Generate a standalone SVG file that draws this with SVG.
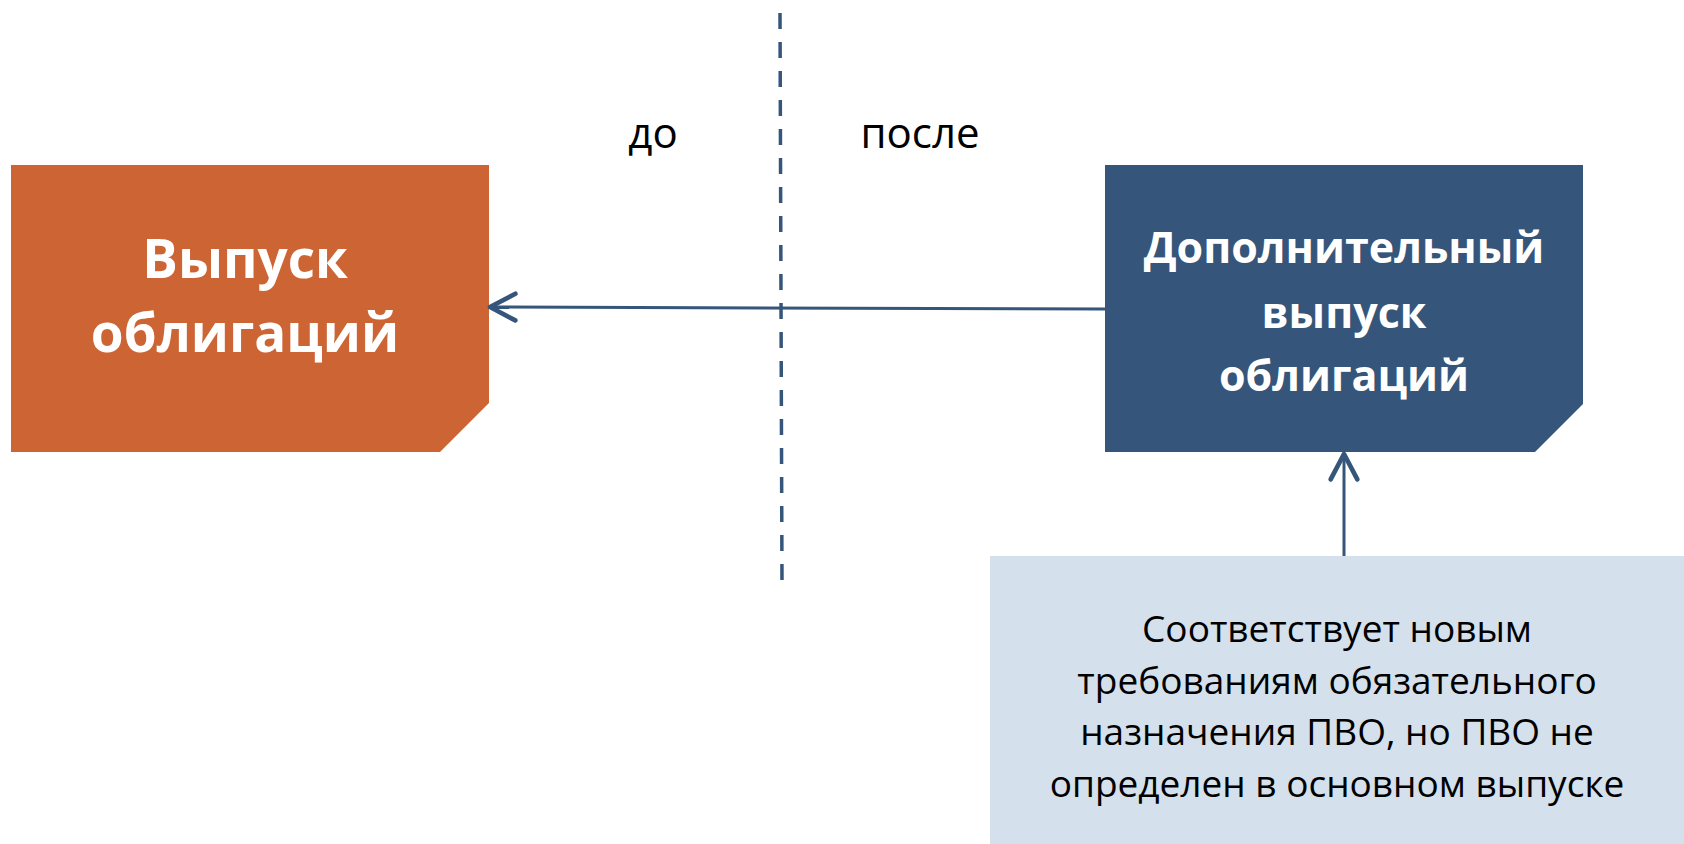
<svg xmlns="http://www.w3.org/2000/svg" width="1684" height="844" viewBox="0 0 1684 844">
<style>
  .lbl { font-family: "Open Sans", "Noto Sans", sans-serif; fill: #000; text-anchor: middle; }
  .bold { font-family: "Open Sans", "Noto Sans", sans-serif; font-weight: bold; fill: #fff; text-anchor: middle; }
  .conn { stroke: #35557A; stroke-width: 3; fill: none; }
</style>
<defs>
  <marker id="chev" markerUnits="userSpaceOnUse" markerWidth="40" markerHeight="40" viewBox="-25 -15 30 30" refX="0" refY="0" orient="auto">
    <path d="M -19 -10 L 0 0 L -19 10" fill="none" stroke="#35557A" stroke-width="3.5" stroke-linecap="round" stroke-linejoin="round"/>
  </marker>
</defs>
<rect width="1684" height="844" fill="#fff"/>

<g id="divider">
  <line x1="780" y1="13" x2="782" y2="583" stroke="#35557A" stroke-width="3.5" stroke-dasharray="16 13"/>
  <text class="lbl" x="653" y="148" font-size="42">до</text>
  <text class="lbl" x="920" y="148" font-size="42">после</text>
</g>

<g id="node-issue">
  <path d="M 11 165 L 489 165 L 489 403 L 440 452 L 11 452 Z" fill="#CD6434"/>
  <text class="bold" x="245" y="278" font-size="53">Выпуск</text>
  <text class="bold" x="245" y="352" font-size="53">облигаций</text>
</g>

<g id="node-additional">
  <path d="M 1105 165 L 1583 165 L 1583 404 L 1535 452 L 1105 452 Z" fill="#35557A"/>
  <text class="bold" x="1344" y="263" font-size="43">Дополнительный</text>
  <text class="bold" x="1344" y="328" font-size="43">выпуск</text>
  <text class="bold" x="1344" y="391" font-size="43">облигаций</text>
</g>

<g id="node-note">
  <rect x="990" y="556" width="694" height="288" fill="#D4E0EC"/>
  <text class="lbl" x="1337" y="642" font-size="37">Соответствует новым</text>
  <text class="lbl" x="1337" y="694" font-size="37">требованиям обязательного</text>
  <text class="lbl" x="1337" y="745" font-size="37">назначения ПВО, но ПВО не</text>
  <text class="lbl" x="1337" y="797" font-size="37">определен в основном выпуске</text>
</g>

<g id="connectors">
  <line class="conn" x1="1105" y1="309" x2="490" y2="307" marker-end="url(#chev)"/>
  <line class="conn" x1="1344" y1="556" x2="1344" y2="454" marker-end="url(#chev)"/>
</g>
</svg>
